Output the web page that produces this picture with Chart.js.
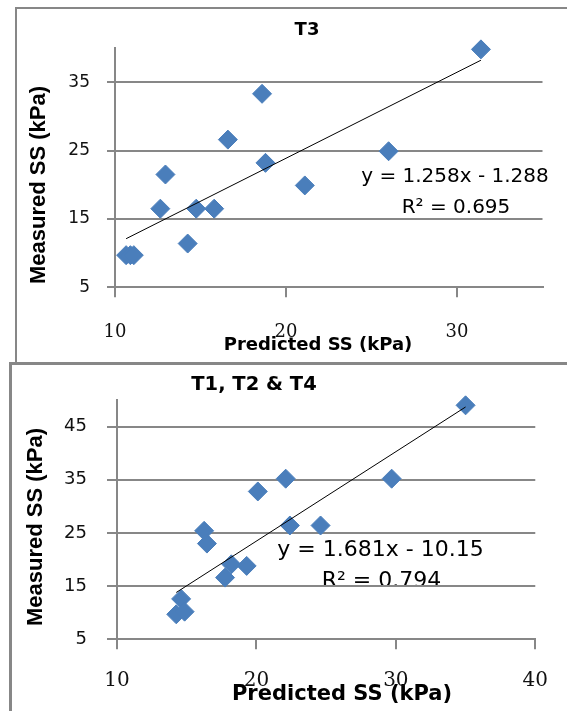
<!DOCTYPE html>
<html>
<head>
<meta charset="utf-8">
<script src="https://cdn.jsdelivr.net/npm/chart.js@4.4.1/dist/chart.umd.min.js"></script>
<style>
  body { margin: 0; width: 567px; height: 711px; overflow: hidden; background: #fff; position: relative; }
  .frame { position: absolute; border-left: 2px solid #878787; border-top: 2px solid #878787; background: #fff; }
  canvas { position: absolute; left: 0; }
</style>
</head>
<body>
<div class="frame" style="left:15px; top:7px; width:600px; height:400px;"></div>
<canvas id="chartT3" width="567" height="360" style="top:0"></canvas>
<div class="frame" style="left:9px; top:362px; width:600px; height:400px; border-width:3px;"></div>
<canvas id="chartT124" width="567" height="356" style="top:355px"></canvas>
<script>
const gridGray = '#878787';
const markerBlue = '#4A7EBB';

// T3 데이터
const t3Predicted = [31.4, 18.6, 16.6, 26.0, 18.8, 12.95, 21.1, 12.65, 14.75, 15.8, 14.25, 10.65, 10.9, 11.1];
const t3Measured = [39.8, 33.3, 26.6, 24.9, 23.2, 21.5, 19.9, 16.5, 16.5, 16.5, 11.4, 9.7, 9.7, 9.7];
const t3Slope = 1.258;
const t3Intercept = -1.288;
const t3XTicks = [10, 20, 30];
const t3YTicks = [5, 15, 25, 35];

// T1, T2 & T4 데이터
const t124Predicted = [35.0, 22.1, 29.7, 20.1, 22.4, 24.6, 16.25, 16.45, 18.2, 19.3, 17.75, 14.6, 14.25, 14.85];
const t124Measured = [49.0, 35.2, 35.2, 32.8, 26.4, 26.4, 25.4, 23.0, 19.1, 18.8, 16.6, 12.6, 9.7, 10.2];
const t124Slope = 1.681;
const t124Intercept = -10.15;
const t124XTicks = [10, 20, 30, 40];
const t124YTicks = [5, 15, 25, 35, 45];

// 제목, 축 제목, 추세선 식 그리기
const fixedTextPlugin = {
    id: 'fixedText',
    beforeDraw(chart, args, opts) {
        const ctx = chart.ctx;
        ctx.save();
        ctx.fillStyle = '#000';
        ctx.textAlign = 'center';
        ctx.textBaseline = 'middle';
        opts.items.forEach(t => {
            ctx.save();
            ctx.font = t.font;
            ctx.translate(t.x, t.y);
            if (t.rotate) ctx.rotate(t.rotate);
            ctx.fillText(t.text, 0, 0);
            ctx.restore();
        });
        ctx.restore();
    }
};

function createScatterChart(canvasId, cfg) {
    const ctx = document.getElementById(canvasId).getContext('2d');

    const points = cfg.predicted.map((x, i) => ({ x: x, y: cfg.measured[i] }));
    const minX = Math.min(...cfg.predicted);
    const maxX = Math.max(...cfg.predicted);
    const trend = [
        { x: minX, y: cfg.slope * minX + cfg.intercept },
        { x: maxX, y: cfg.slope * maxX + cfg.intercept }
    ];

    const chart_data = {
        datasets: [
            {
                type: 'line',
                data: trend,
                borderColor: '#000',
                borderWidth: 1,
                pointRadius: 0,
                clip: false,
                order: 0
            },
            {
                type: 'scatter',
                data: points,
                pointStyle: 'rectRot',
                pointRadius: 9.5,
                backgroundColor: markerBlue,
                borderColor: markerBlue,
                borderWidth: 1,
                clip: false,
                order: 1
            }
        ]
    };

    const chart_options = {
        responsive: false,
        animation: false,
        layout: { padding: { left: 0, top: cfg.layout.top, right: cfg.layout.right, bottom: 0 } },
        plugins: {
            legend: { display: false },
            tooltip: { enabled: false },
            fixedText: { items: cfg.texts }
        },
        scales: {
            x: {
                type: 'linear',
                min: cfg.xRange[0],
                max: cfg.xRange[1],
                afterBuildTicks: s => { s.ticks = cfg.xTicks.map(v => ({ value: v })); },
                afterFit: s => { s.height = cfg.layout.xHeight; },
                grid: { drawOnChartArea: false, drawTicks: true, tickLength: 10, color: gridGray, lineWidth: 2 },
                border: { color: gridGray, width: 2 },
                ticks: {
                    padding: cfg.layout.xPad,
                    autoSkip: false,
                    maxRotation: 0,
                    color: '#111',
                    font: { family: 'DejaVu Serif', size: cfg.layout.xFont }
                }
            },
            y: {
                type: 'linear',
                min: cfg.yRange[0],
                max: cfg.yRange[1],
                afterBuildTicks: s => { s.ticks = cfg.yTicks.map(v => ({ value: v })); },
                afterFit: s => { s.width = cfg.layout.yWidth; },
                grid: { drawTicks: true, tickLength: cfg.layout.yTickLen, color: gridGray, lineWidth: 2 },
                border: { color: gridGray, width: 2 },
                ticks: {
                    padding: cfg.layout.yPad,
                    autoSkip: false,
                    color: '#111',
                    font: { family: 'DejaVu Sans', size: cfg.layout.yFont }
                }
            }
        }
    };

    new Chart(ctx, {
        type: 'scatter',
        data: chart_data,
        options: chart_options,
        plugins: [fixedTextPlugin]
    });
}

createScatterChart('chartT3', {
    predicted: t3Predicted,
    measured: t3Measured,
    slope: t3Slope,
    intercept: t3Intercept,
    xRange: [10, 35],
    yRange: [5, 40],
    xTicks: t3XTicks,
    yTicks: t3YTicks,
    layout: { top: 48, right: 24.5, xHeight: 72.7, yWidth: 115, xPad: 24, yPad: 17, yTickLen: 8, xFont: 18, yFont: 17 },
    texts: [
        { text: 'T3', x: 307, y: 30, font: 'bold 18px "DejaVu Sans"' },
        { text: 'Measured SS (kPa)', x: 39, y: 185, rotate: -Math.PI / 2, font: 'bold 22px "Liberation Sans"' },
        { text: 'Predicted SS (kPa)', x: 318, y: 345, font: 'bold 18px "DejaVu Sans"' },
        { text: 'y = 1.258x - 1.288', x: 455, y: 177, font: '20px "DejaVu Sans"' },
        { text: 'R² = 0.695', x: 456, y: 208, font: '20px "DejaVu Sans"' }
    ]
});

createScatterChart('chartT124', {
    predicted: t124Predicted,
    measured: t124Measured,
    slope: t124Slope,
    intercept: t124Intercept,
    xRange: [10, 40],
    yRange: [5, 50],
    xTicks: t124XTicks,
    yTicks: t124YTicks,
    layout: { top: 45, right: 21, xHeight: 71.7, yWidth: 117, xPad: 19, yPad: 20, yTickLen: 10, xFont: 20, yFont: 18 },
    texts: [
        { text: 'T1, T2 & T4', x: 254, y: 30, font: 'bold 19.5px "DejaVu Sans"' },
        { text: 'Measured SS (kPa)', x: 36, y: 172, rotate: -Math.PI / 2, font: 'bold 22px "Liberation Sans"' },
        { text: 'Predicted SS (kPa)', x: 342, y: 340, font: 'bold 21px "DejaVu Sans"' },
        { text: 'y = 1.681x - 10.15', x: 380.5, y: 195, font: '22px "DejaVu Sans"' },
        { text: 'R² = 0.794', x: 381.5, y: 226.7, font: '22px "DejaVu Sans"' }
    ]
});
</script>
</body>
</html>
